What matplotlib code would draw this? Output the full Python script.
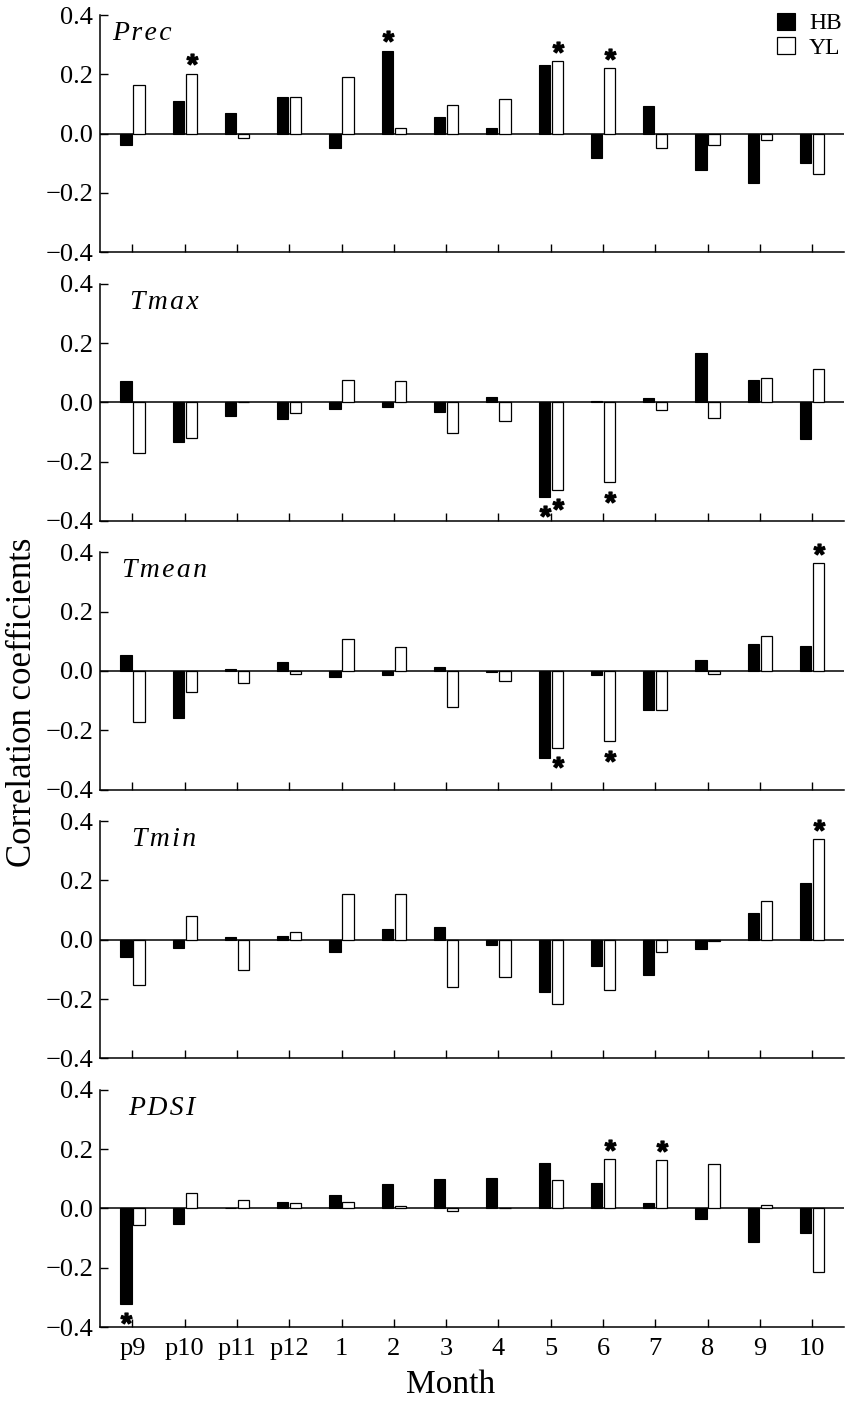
import numpy as np
import matplotlib
matplotlib.use("Agg")
import matplotlib.pyplot as plt
from matplotlib.patches import Patch

plt.rcParams['font.family'] = ['Liberation Serif', 'DejaVu Serif']
plt.rcParams['mathtext.fontset'] = 'custom'
plt.rcParams['mathtext.rm'] = 'Liberation Sans:bold'
plt.rcParams['mathtext.bf'] = 'Liberation Sans:bold'

# months on the x axis
months = ['p9', 'p10', 'p11', 'p12', '1', '2', '3', '4', '5', '6', '7', '8', '9', '10']

# correlation coefficients, HB and YL
prec_hb = [-0.040, 0.111, 0.070, 0.125, -0.048, 0.280, 0.056, 0.018, 0.233, -0.082, 0.093, -0.124, -0.165, -0.099]
prec_yl = [0.165, 0.202, -0.015, 0.125, 0.190, 0.020, 0.095, 0.117, 0.245, 0.220, -0.049, -0.038, -0.022, -0.137]

tmax_hb = [0.072, -0.135, -0.045, -0.057, -0.021, -0.017, -0.034, 0.017, -0.319, 0.003, 0.015, 0.167, 0.076, -0.125]
tmax_yl = [-0.172, -0.119, 0.0, -0.035, 0.076, 0.071, -0.102, -0.064, -0.296, -0.270, -0.026, -0.054, 0.082, 0.112]

tmean_hb = [0.053, -0.158, 0.008, 0.029, -0.020, -0.014, 0.014, -0.005, -0.292, -0.015, -0.132, 0.037, 0.091, 0.086]
tmean_yl = [-0.171, -0.070, -0.039, -0.009, 0.107, 0.082, -0.121, -0.033, -0.259, -0.237, -0.130, -0.009, 0.117, 0.365]

tmin_hb = [-0.057, -0.029, 0.008, 0.012, -0.043, 0.037, 0.042, -0.018, -0.176, -0.088, -0.120, -0.030, 0.089, 0.191]
tmin_yl = [-0.154, 0.080, -0.102, 0.027, 0.154, 0.155, -0.158, -0.126, -0.217, -0.170, -0.043, -0.004, 0.129, 0.340]

pdsi_hb = [-0.322, -0.052, 0.001, 0.021, 0.044, 0.082, 0.098, 0.102, 0.152, 0.084, 0.017, -0.037, -0.113, -0.084]
pdsi_yl = [-0.057, 0.052, 0.027, 0.017, 0.021, 0.008, -0.008, 0.0, 0.097, 0.167, 0.164, 0.149, 0.012, -0.213]

# significant months (index into months)
prec_sig_hb = [5]
prec_sig_yl = [1, 8, 9]
tmax_sig_hb = [8]
tmax_sig_yl = [8, 9]
tmean_sig_hb = []
tmean_sig_yl = [8, 9, 13]
tmin_sig_hb = []
tmin_sig_yl = [13]
pdsi_sig_hb = [0]
pdsi_sig_yl = [9, 10]

panel_names = ['Prec', 'Tmax', 'Tmean', 'Tmin', 'PDSI']
yticks = [-0.4, -0.2, 0.0, 0.2, 0.4]
ytick_labels = ['\u22120.4', '\u22120.2', '0.0', '0.2', '0.4']

panels = [
    (prec_hb, prec_yl, prec_sig_hb, prec_sig_yl),
    (tmax_hb, tmax_yl, tmax_sig_hb, tmax_sig_yl),
    (tmean_hb, tmean_yl, tmean_sig_hb, tmean_sig_yl),
    (tmin_hb, tmin_yl, tmin_sig_hb, tmin_sig_yl),
    (pdsi_hb, pdsi_yl, pdsi_sig_hb, pdsi_sig_yl),
]
name_x = [0.016, 0.040, 0.029, 0.043, 0.038]

W, H = 851, 1404
fig = plt.figure(figsize=(W / 100, H / 100), dpi=100)

x = np.arange(len(months))
bw = 0.215
off = 0.125

for k, (hb, yl, shb, syl) in enumerate(panels):
    top = 15 + 268.7 * k
    ax = fig.add_axes([100 / W, 1 - (top + 237.2) / H, 744 / W, 237.2 / H])
    hb = np.array(hb)
    yl = np.array(yl)
    ax.bar(x - off, hb, width=bw, color='black', edgecolor='black', linewidth=0.8, zorder=3)
    ax.bar(x + off, yl, width=bw, color='white', edgecolor='black', linewidth=0.9, zorder=3)
    ax.axhline(0, color='black', lw=1.1, zorder=2)

    # significance stars
    for idx_list, xs, vals in ((shb, x - off, hb), (syl, x + off, yl)):
        for i in idx_list:
            v = vals[i]
            ys = v + np.sign(v) * 0.048
            ax.plot(xs[i] + 0.01, ys, marker='$*$', ms=8, color='black',
                    linestyle='none', zorder=4, clip_on=False)

    ax.set_xlim(-0.62, 13.61)
    ax.set_ylim(-0.4, 0.4)
    ax.set_yticks(yticks)
    ax.set_yticklabels(ytick_labels)
    ax.set_xticks(x)
    if k == len(panels) - 1:
        ax.set_xticklabels(months)
    else:
        ax.set_xticklabels([])
    for s in ('top', 'right'):
        ax.spines[s].set_visible(False)
    for s in ('left', 'bottom'):
        ax.spines[s].set_linewidth(1.1)
    ax.tick_params(axis='both', direction='in', length=6, width=1.0, labelsize=19)
    ax.tick_params(axis='y', pad=5)
    ax.tick_params(axis='x', pad=8)

    name = '\u200a'.join(panel_names[k])
    ax.text(name_x[k], 1 - 6 / 237.2, name, transform=ax.transAxes, fontsize=20,
            style='italic', ha='left', va='top')

    if k == 0:
        handles = [Patch(facecolor='black', edgecolor='black', linewidth=0.8),
                   Patch(facecolor='white', edgecolor='black', linewidth=0.9)]
        ax.legend(handles, ['HB', 'YL'], loc='upper right', bbox_to_anchor=(1.0, 1.02),
                  frameon=False, fontsize=17, handlelength=0.75, handleheight=0.75,
                  handletextpad=0.6, labelspacing=0.1, borderpad=0.1, borderaxespad=0)

fig.text(0.027, 0.5, 'Correlation coefficients', rotation=90, fontsize=25,
         ha='center', va='center')
fig.text(451 / W, 1 - 1385 / H, 'Month', fontsize=24, ha='center', va='center')

fig.savefig('out.png', dpi=100)
